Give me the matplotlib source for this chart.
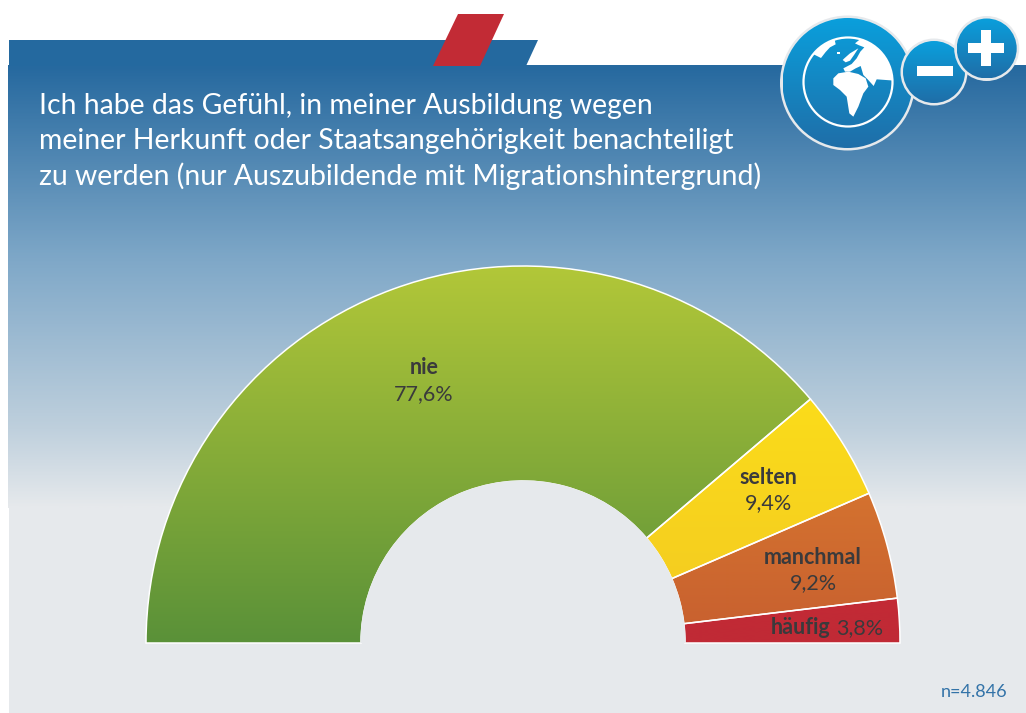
"""
plot.py - half-doughnut chart, Auszubildende mit Migrationshintergrund
Output: out.png
"""

import numpy as np
import matplotlib
matplotlib.use("Agg")
import matplotlib.pyplot as plt
from matplotlib.colors import LinearSegmentedColormap
from matplotlib.patches import Circle, Polygon, Wedge, Rectangle


categories = ["nie", "selten", "manchmal", "häufig"]
shares = [77.6, 9.4, 9.2, 3.8]
title_lines = [
    "Ich habe das Gefühl, in meiner Ausbildung wegen",
    "meiner Herkunft oder Staatsangehörigkeit benachteiligt",
    "zu werden (nur Auszubildende mit Migrationshintergrund)",
]
sample_note = "n=4.846"

W, H = 1026, 713
CX, CY = 523, 643
R_OUT, R_IN = 377, 162

FONT = ["Lato", "DejaVu Sans"]
DARK = "#3a3a3c"
PANEL = "#e6e9ec"

SEG_COLORS = [
    ("#b2c739", "#5a9138"),
    ("#fbdc1a", "#f3c922"),
    ("#d4722f", "#c75f2f"),
    ("#c32a35", "#c02a36"),
]
PANEL_STOPS = [(0.0, "#26699f"), (0.44, "#7fa8c8"), (0.824, "#bfd0dd"), (1.0, PANEL)]


def gradient(ax, colors, extent, clip=None, zorder=1):
    """Vertical gradient; colors run top to bottom, extent = x0, x1, ytop, ybottom."""
    cmap = LinearSegmentedColormap.from_list("g", colors)
    img = ax.imshow(np.linspace(0, 1, 400).reshape(-1, 1), cmap=cmap, aspect="auto",
                    extent=(extent[0], extent[1], extent[3], extent[2]),
                    zorder=zorder, interpolation="bilinear")
    if clip is not None:
        img.set_clip_path(clip)
    return img


def badge(ax, x, y, r, zorder):
    ax.add_patch(Circle((x, y), r + 2.5, fc="#e6e9ec", ec="none", zorder=zorder))
    disc = Circle((x, y), r, fc="none", ec="none", zorder=zorder)
    ax.add_patch(disc)
    gradient(ax, ["#0a9fdc", "#1f6ea8"], (x - r, x + r, y - r, y + r), clip=disc, zorder=zorder + 0.1)


def zoomed(pts):
    return [(795 + x / 3, 30 + y / 3) for x, y in pts]


def draw_globe(ax):
    z = 6
    badge(ax, 847.5, 83, 65, z)
    ax.add_patch(Circle((848, 82), 44.5, fc="none", ec="white", lw=1.6, zorder=z + 1))
    land = Circle((848, 82), 44.5, transform=ax.transData)
    shapes = [
        [(50, 70), (78, 84), (92, 66), (105, 52), (122, 43), (118, 25), (85, 30)],
        [(127, 65), (136, 65), (136, 73), (127, 73)],
        [(205, 20), (300, 90), (300, 152), (245, 148), (236, 168), (218, 148), (205, 135),
         (197, 108), (182, 115), (165, 125), (150, 125), (145, 115), (170, 102), (185, 85),
         (196, 65), (208, 52), (190, 45), (180, 40)],
        [(148, 85), (165, 70), (190, 55), (177, 75), (165, 92), (152, 97), (143, 90)],
        [(115, 145), (130, 130), (160, 125), (190, 132), (212, 145), (220, 170), (205, 190),
         (190, 230), (175, 260), (163, 250), (155, 200), (135, 180), (115, 165)],
    ]
    for pts in shapes:
        p = Polygon(zoomed(pts), closed=True, fc="white", ec="none", zorder=z + 1)
        ax.add_patch(p)
        p.set_clip_path(land)


def main():
    fig = plt.figure(figsize=(W / 100, H / 100), dpi=100)
    ax = fig.add_axes([0, 0, 1, 1])
    ax.set_xlim(0, W)
    ax.set_ylim(H, 0)
    ax.axis("off")

    # panel background and header strip
    ax.add_patch(Rectangle((9, 508), W - 9, H - 508, fc=PANEL, ec="none", zorder=0))
    gradient(ax, PANEL_STOPS, (8, W, 65, 508), zorder=0)
    ax.add_patch(Polygon([(9, 40), (538, 40), (526, 66), (9, 66)], fc="#24699f", ec="none", zorder=1))
    ax.add_patch(Polygon([(458, 14), (504, 14), (480, 66), (433, 66)], fc="#c22b35", ec="none", zorder=2))

    for i, line in enumerate(title_lines):
        ax.text(39, 106 + i * 35.3, line, color="white", fontsize=20.4, family=FONT,
                ha="left", va="center", zorder=8)

    # half ring, 100 % = 180 degrees
    start = 180.0
    for share, cols in zip(shares, SEG_COLORS):
        end = start - share * 180.0 / sum(shares)
        # y axis is inverted, so angles are mirrored
        w = Wedge((CX, CY), R_OUT, 360 - start, 360 - end, width=R_OUT - R_IN,
                  fc="none", ec="none", zorder=3)
        ax.add_patch(w)
        th = np.radians([start, end])
        top = CY - R_OUT * (np.sin(th).max() if share < 50 else 1.0)
        gradient(ax, cols, (CX - R_OUT, CX + R_OUT, top, CY), clip=w, zorder=3)
        ax.add_patch(Wedge((CX, CY), R_OUT, 360 - start, 360 - end, width=R_OUT - R_IN,
                           fc="none", ec="white", lw=1.1, zorder=4))
        start = end
    # the hole is flat panel colour with no white rim
    ax.add_patch(Wedge((CX, CY), R_IN + 0.6, 180, 360, fc=PANEL, ec="none", zorder=4.5))

    pct = [f"{v:.1f}%".replace(".", ",") for v in shares]
    name_pos = [(424, 368), (768, 477), (813, 557)]
    for name, p, (x, y) in zip(categories, pct, name_pos):
        ax.text(x, y, name, color=DARK, fontsize=15.5, family=FONT, fontweight="bold",
                ha="center", va="center", zorder=5)
        ax.text(x, y + 26, p, color=DARK, fontsize=15.5, family=FONT,
                ha="center", va="center", zorder=5)
    ax.text(830, 628, categories[3], color=DARK, fontsize=15.5, family=FONT, fontweight="bold",
            ha="right", va="center", zorder=5)
    ax.text(836, 628, pct[3], color=DARK, fontsize=15.5, family=FONT,
            ha="left", va="center", zorder=5)

    ax.text(1007, 692, sample_note, color="#3373a8", fontsize=13, family=FONT,
            ha="right", va="center", zorder=5)

    # logo top right
    draw_globe(ax)
    badge(ax, 934, 72, 31, 7)
    ax.add_patch(Rectangle((917, 66), 36, 10, fc="white", ec="none", zorder=7.5))
    badge(ax, 986.7, 48.5, 30, 7.6)
    ax.add_patch(Rectangle((968, 43), 36, 10, fc="white", ec="none", zorder=8))
    ax.add_patch(Rectangle((981, 30), 10, 36, fc="white", ec="none", zorder=8))

    ax.set_xlim(0, W)
    ax.set_ylim(H, 0)
    fig.savefig("out.png", dpi=100, facecolor="white")
    plt.close(fig)


if __name__ == "__main__":
    main()
